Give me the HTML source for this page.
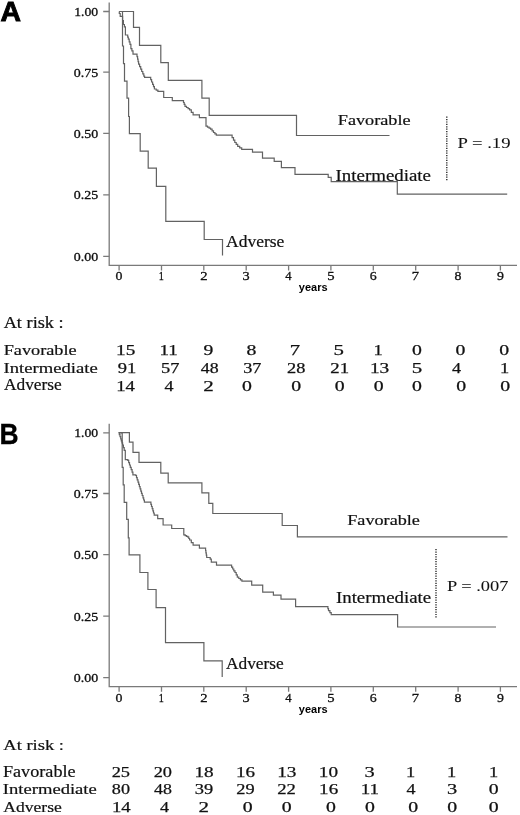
<!DOCTYPE html>
<html><head><meta charset="utf-8"><style>
html,body{margin:0;padding:0;background:#fff;}
svg{display:block;filter:grayscale(1) blur(0.3px);}
text{font-family:"Liberation Serif", serif;fill:#111;stroke:#111;stroke-width:0.2px;}
text.ax{stroke-width:0.3px;}
text.ns{stroke-width:0;}
text.num{stroke-width:0.25px;}
text.yrs{fill:#3a3a3a;}
text.pv{stroke-width:0.05px;}
text.big{stroke:#000;stroke-width:0.9px;}
text.bigb{stroke:#000;stroke-width:0.3px;}
text.lab{font-family:"Liberation Sans", sans-serif;fill:#000;}
</style></head><body>
<svg width="520" height="815" viewBox="0 0 520 815">
<rect width="520" height="815" fill="#fff"/>
<text x="0.64" y="21.45" font-size="27.64" font-weight="bold" class="lab big" textLength="20.48" lengthAdjust="spacingAndGlyphs">A</text>
<text x="-0.49" y="443.55" font-size="28.80" font-weight="bold" class="lab bigb" textLength="19.12" lengthAdjust="spacingAndGlyphs">B</text>
<path d="M109.2 2.5 V265.4 H517" fill="none" stroke="#7a7a7a" stroke-width="1.3"/>
<path d="M103.2 11.5 H109.2 M103.2 72.2 H109.2 M103.2 133.4 H109.2 M103.2 194.9 H109.2 M103.2 256.3 H109.2 M119.1 265.4 V270.4 M161.5 265.4 V270.4 M203.8 265.4 V270.4 M246.2 265.4 V270.4 M288.6 265.4 V270.4 M330.9 265.4 V270.4 M373.3 265.4 V270.4 M415.7 265.4 V270.4 M458.1 265.4 V270.4 M500.4 265.4 V270.4 " fill="none" stroke="#7a7a7a" stroke-width="1.3"/>
<path d="M119.3 11.5 H133.5 V27.3 H139.5 V45.3 H160.8 V62.6 H168.3 V80.4 H201.9 V98.1 H209.2 V115.3 H296.5 V135.5 H389.5" fill="none" stroke="#626262" stroke-width="1.2"/>
<path d="M119.3 11.5 V13.5 H120.2 V16.3 H122.6 V20.5 H123.4 V24.5 H124.4 V26.8 H125.4 V35.0 H127.0 H127.7 V37.1 H128.3 V39.2 H129.2 V41.8 H130.0 V44.3 H130.9 V48.6 H131.9 V50.8 H133.0 V52.9 V54.2 H136.5 H137.0 V56.7 H137.6 V59.1 H138.1 V61.6 H138.6 V64.1 H139.6 V66.7 H140.7 V69.2 H141.7 V71.5 H142.8 V73.8 H143.8 V76.1 H144.6 V77.3 H149.8 H150.7 V79.6 H151.6 V82.0 H152.6 V84.3 H153.5 V86.7 H154.4 V89.0 H156.2 V90.2 H157.9 V91.3 H163.7 V97.5 H172.3 V100.6 H182.7 H183.5 V102.5 H184.2 V104.4 H185.0 V106.3 H186.5 V107.5 H188.1 V108.6 H189.6 V109.8 H191.3 V112.3 H193.1 V114.8 H199.4 V117.7 H206.0 V126.1 H207.5 V127.1 H209.1 V128.2 H210.6 V129.2 H212.1 V130.8 H213.5 V132.5 H214.9 V133.8 H216.3 V135.2 H230.8 H232.1 V137.6 H233.5 V140.1 H234.8 V142.5 H236.2 V144.4 H237.7 V146.3 H239.7 V147.9 H241.7 V149.4 H252.5 V152.1 H262.5 V158.2 H274.2 V161.3 H281.4 V167.7 H295.0 V174.3 H328.2 V177.3 H331.2 V181.6 H397.3 V194.2 H507.2" fill="none" stroke="#626262" stroke-width="1.2"/>
<path d="M119.3 11.5 H122.5 V46.0 H123.5 V63.6 H124.5 V81.1 H127.0 V98.1 H128.6 V116.5 H129.4 V133.6 H140.2 V151.2 H148.2 V168.2 H156.4 V186.4 H165.8 V221.3 H204.2 V239.5 H222.5 V255.6" fill="none" stroke="#626262" stroke-width="1.2"/>
<text x="74.20" y="16.00" font-size="11.58" class="ax" textLength="23.91" lengthAdjust="spacingAndGlyphs">1.00</text>
<text x="73.78" y="76.70" font-size="11.58" class="ax" textLength="24.38" lengthAdjust="spacingAndGlyphs">0.75</text>
<text x="73.78" y="137.90" font-size="11.58" class="ax" textLength="24.34" lengthAdjust="spacingAndGlyphs">0.50</text>
<text x="73.78" y="199.40" font-size="11.58" class="ax" textLength="24.38" lengthAdjust="spacingAndGlyphs">0.25</text>
<text x="73.78" y="260.80" font-size="11.58" class="ax" textLength="24.34" lengthAdjust="spacingAndGlyphs">0.00</text>
<text x="115.63" y="280.40" font-size="12.18" class="ax" textLength="6.94" lengthAdjust="spacingAndGlyphs">0</text>
<text x="158.78" y="280.40" font-size="12.27" class="ax" textLength="5.11" lengthAdjust="spacingAndGlyphs">1</text>
<text x="200.23" y="280.40" font-size="12.23" class="ax" textLength="7.37" lengthAdjust="spacingAndGlyphs">2</text>
<text x="242.58" y="280.40" font-size="12.23" class="ax" textLength="7.15" lengthAdjust="spacingAndGlyphs">3</text>
<text x="285.38" y="280.40" font-size="12.32" class="ax" textLength="6.34" lengthAdjust="spacingAndGlyphs">4</text>
<text x="327.16" y="280.40" font-size="12.37" class="ax" textLength="7.33" lengthAdjust="spacingAndGlyphs">5</text>
<text x="369.78" y="280.40" font-size="12.23" class="ax" textLength="6.90" lengthAdjust="spacingAndGlyphs">6</text>
<text x="411.79" y="280.40" font-size="12.37" class="ax" textLength="7.28" lengthAdjust="spacingAndGlyphs">7</text>
<text x="454.59" y="280.40" font-size="12.18" class="ax" textLength="6.94" lengthAdjust="spacingAndGlyphs">8</text>
<text x="497.03" y="280.40" font-size="12.23" class="ax" textLength="6.90" lengthAdjust="spacingAndGlyphs">9</text>
<text x="298.82" y="291.30" font-size="10.98" font-weight="bold" class="lab ns yrs" textLength="28.74" lengthAdjust="spacingAndGlyphs">years</text>
<text x="337.75" y="125.40" font-size="14.96" textLength="72.86" lengthAdjust="spacingAndGlyphs">Favorable</text>
<text x="335.54" y="181.40" font-size="16.40" textLength="95.48" lengthAdjust="spacingAndGlyphs">Intermediate</text>
<text x="226.03" y="247.10" font-size="15.97" textLength="58.28" lengthAdjust="spacingAndGlyphs">Adverse</text>
<text x="457.54" y="147.90" font-size="15.55" class="pv" textLength="53.02" lengthAdjust="spacingAndGlyphs">P = .19</text>
<path d="M446.8 116.6 V180.8" stroke="#1a1a1a" stroke-width="1.3" stroke-dasharray="1.2 1.2"/>
<text x="3.67" y="328.30" font-size="15.83" textLength="60.01" lengthAdjust="spacingAndGlyphs">At risk :</text>
<text x="3.65" y="355.00" font-size="14.68" textLength="72.96" lengthAdjust="spacingAndGlyphs">Favorable</text>
<text x="3.55" y="372.70" font-size="14.39" textLength="94.17" lengthAdjust="spacingAndGlyphs">Intermediate</text>
<text x="4.03" y="390.40" font-size="15.83" textLength="57.77" lengthAdjust="spacingAndGlyphs">Adverse</text>
<text x="116.12" y="355.20" font-size="14.39" class="num" textLength="19.26" lengthAdjust="spacingAndGlyphs">15</text>
<text x="159.59" y="355.20" font-size="14.39" class="num" textLength="18.31" lengthAdjust="spacingAndGlyphs">11</text>
<text x="203.46" y="355.20" font-size="14.34" class="num" textLength="9.82" lengthAdjust="spacingAndGlyphs">9</text>
<text x="246.56" y="355.20" font-size="14.29" class="num" textLength="9.88" lengthAdjust="spacingAndGlyphs">8</text>
<text x="289.65" y="355.20" font-size="14.50" class="num" textLength="10.37" lengthAdjust="spacingAndGlyphs">7</text>
<text x="333.60" y="355.20" font-size="14.50" class="num" textLength="10.43" lengthAdjust="spacingAndGlyphs">5</text>
<text x="373.44" y="355.20" font-size="14.39" class="num" textLength="9.22" lengthAdjust="spacingAndGlyphs">1</text>
<text x="411.96" y="355.20" font-size="14.29" class="num" textLength="9.88" lengthAdjust="spacingAndGlyphs">0</text>
<text x="455.46" y="355.20" font-size="14.29" class="num" textLength="9.88" lengthAdjust="spacingAndGlyphs">0</text>
<text x="499.26" y="355.20" font-size="14.29" class="num" textLength="9.88" lengthAdjust="spacingAndGlyphs">0</text>
<text x="117.80" y="372.60" font-size="14.04" class="num" textLength="18.51" lengthAdjust="spacingAndGlyphs">91</text>
<text x="161.14" y="372.60" font-size="14.20" class="num" textLength="18.41" lengthAdjust="spacingAndGlyphs">57</text>
<text x="200.74" y="372.60" font-size="13.98" class="num" textLength="17.82" lengthAdjust="spacingAndGlyphs">48</text>
<text x="243.23" y="372.60" font-size="14.04" class="num" textLength="18.21" lengthAdjust="spacingAndGlyphs">37</text>
<text x="287.08" y="372.60" font-size="13.98" class="num" textLength="18.31" lengthAdjust="spacingAndGlyphs">28</text>
<text x="330.36" y="372.60" font-size="14.04" class="num" textLength="18.77" lengthAdjust="spacingAndGlyphs">21</text>
<text x="369.92" y="372.60" font-size="14.04" class="num" textLength="19.26" lengthAdjust="spacingAndGlyphs">13</text>
<text x="411.70" y="372.60" font-size="14.20" class="num" textLength="10.43" lengthAdjust="spacingAndGlyphs">5</text>
<text x="452.04" y="372.60" font-size="14.14" class="num" textLength="9.03" lengthAdjust="spacingAndGlyphs">4</text>
<text x="500.14" y="372.60" font-size="14.09" class="num" textLength="9.22" lengthAdjust="spacingAndGlyphs">1</text>
<text x="116.16" y="390.60" font-size="14.24" class="num" textLength="18.72" lengthAdjust="spacingAndGlyphs">14</text>
<text x="164.64" y="390.60" font-size="14.30" class="num" textLength="9.03" lengthAdjust="spacingAndGlyphs">4</text>
<text x="203.16" y="390.60" font-size="14.19" class="num" textLength="10.50" lengthAdjust="spacingAndGlyphs">2</text>
<text x="242.06" y="390.60" font-size="14.14" class="num" textLength="9.88" lengthAdjust="spacingAndGlyphs">0</text>
<text x="291.16" y="390.60" font-size="14.14" class="num" textLength="9.88" lengthAdjust="spacingAndGlyphs">0</text>
<text x="334.66" y="390.60" font-size="14.14" class="num" textLength="9.88" lengthAdjust="spacingAndGlyphs">0</text>
<text x="373.86" y="390.60" font-size="14.14" class="num" textLength="9.88" lengthAdjust="spacingAndGlyphs">0</text>
<text x="412.06" y="390.60" font-size="14.14" class="num" textLength="9.88" lengthAdjust="spacingAndGlyphs">0</text>
<text x="456.26" y="390.60" font-size="14.14" class="num" textLength="9.88" lengthAdjust="spacingAndGlyphs">0</text>
<text x="500.26" y="390.60" font-size="14.14" class="num" textLength="9.88" lengthAdjust="spacingAndGlyphs">0</text>
<path d="M109.2 423.8 V686.7 H517" fill="none" stroke="#7a7a7a" stroke-width="1.3"/>
<path d="M103.2 432.8 H109.2 M103.2 493.5 H109.2 M103.2 554.7 H109.2 M103.2 616.2 H109.2 M103.2 677.6 H109.2 M119.1 686.7 V691.7 M161.5 686.7 V691.7 M203.8 686.7 V691.7 M246.2 686.7 V691.7 M288.6 686.7 V691.7 M330.9 686.7 V691.7 M373.3 686.7 V691.7 M415.7 686.7 V691.7 M458.1 686.7 V691.7 M500.4 686.7 V691.7 " fill="none" stroke="#7a7a7a" stroke-width="1.3"/>
<path d="M118.6 432.6 H129.4 V442.2 H133.0 V452.3 H139.0 V462.4 H160.8 V473.1 H168.2 V482.8 H201.9 V492.9 H208.8 V503.3 H212.8 V513.5 H282.2 V525.5 H297.4 V536.8 H507.5" fill="none" stroke="#626262" stroke-width="1.2"/>
<path d="M118.6 432.6 H119.3 V434.7 H120.0 V436.7 H120.7 V438.8 H121.3 V440.9 H122.0 V442.9 H122.6 V445.0 H123.4 V447.7 H124.2 V450.4 H125.3 V459.6 H127.8 V460.4 H128.7 V462.7 H129.5 V465.0 H130.3 V467.3 H131.2 V469.6 H132.1 V472.2 H132.9 V474.8 H135.8 V475.5 H136.5 V477.7 H137.2 V479.9 H138.0 V482.2 H138.7 V484.4 H139.4 V486.6 H140.1 V488.9 H140.8 V491.1 H141.5 V493.3 H142.2 V495.5 H143.0 V497.8 H143.7 V500.0 H144.4 V502.2 H150.2 H150.9 V504.4 H151.5 V506.5 H152.2 V508.7 H152.9 V510.9 H153.5 V513.0 H154.2 V515.2 H157.7 V518.7 H163.1 V525.0 H171.7 V528.5 H182.7 H183.8 V534.8 H185.2 V535.6 H186.5 V536.3 H187.9 V537.1 H188.8 V538.5 H189.6 V540.0 H191.3 V542.6 H193.1 V545.2 H199.4 V548.1 H205.2 H205.6 V550.5 H205.9 V552.8 H206.3 V555.1 H206.7 V557.5 H210.2 V559.2 H211.3 V562.1 H216.5 V562.6 V565.2 H230.4 H231.6 V567.1 H232.7 V569.0 H233.8 V570.8 H235.0 V572.5 H236.2 V574.8 H237.3 V577.1 H238.8 V578.5 H240.4 V579.8 H241.9 V581.2 H251.7 V585.2 H262.7 V592.2 H273.4 V595.2 H281.0 V599.2 H295.6 V606.6 H327.2 H327.9 V608.7 H328.5 V610.7 H329.9 V612.7 H331.2 V614.7 H397.6 V627.0 H496.0" fill="none" stroke="#626262" stroke-width="1.2"/>
<path d="M119.0 432.8 H122.2 V467.3 H123.2 V484.9 H124.2 V502.4 H126.7 V519.4 H128.3 V537.8 H129.1 V554.9 H139.9 V572.5 H147.9 V589.5 H156.1 V607.7 H165.5 V642.6 H203.9 V660.8 H222.2 V676.9" fill="none" stroke="#626262" stroke-width="1.2"/>
<text x="74.20" y="437.30" font-size="11.58" class="ax" textLength="23.91" lengthAdjust="spacingAndGlyphs">1.00</text>
<text x="73.78" y="498.00" font-size="11.58" class="ax" textLength="24.38" lengthAdjust="spacingAndGlyphs">0.75</text>
<text x="73.78" y="559.20" font-size="11.58" class="ax" textLength="24.34" lengthAdjust="spacingAndGlyphs">0.50</text>
<text x="73.78" y="620.70" font-size="11.58" class="ax" textLength="24.38" lengthAdjust="spacingAndGlyphs">0.25</text>
<text x="73.78" y="682.10" font-size="11.58" class="ax" textLength="24.34" lengthAdjust="spacingAndGlyphs">0.00</text>
<text x="115.63" y="701.70" font-size="12.18" class="ax" textLength="6.94" lengthAdjust="spacingAndGlyphs">0</text>
<text x="158.78" y="701.70" font-size="12.27" class="ax" textLength="5.11" lengthAdjust="spacingAndGlyphs">1</text>
<text x="200.23" y="701.70" font-size="12.23" class="ax" textLength="7.37" lengthAdjust="spacingAndGlyphs">2</text>
<text x="242.58" y="701.70" font-size="12.23" class="ax" textLength="7.15" lengthAdjust="spacingAndGlyphs">3</text>
<text x="285.38" y="701.70" font-size="12.32" class="ax" textLength="6.34" lengthAdjust="spacingAndGlyphs">4</text>
<text x="327.16" y="701.70" font-size="12.37" class="ax" textLength="7.33" lengthAdjust="spacingAndGlyphs">5</text>
<text x="369.78" y="701.70" font-size="12.23" class="ax" textLength="6.90" lengthAdjust="spacingAndGlyphs">6</text>
<text x="411.79" y="701.70" font-size="12.37" class="ax" textLength="7.28" lengthAdjust="spacingAndGlyphs">7</text>
<text x="454.59" y="701.70" font-size="12.18" class="ax" textLength="6.94" lengthAdjust="spacingAndGlyphs">8</text>
<text x="497.03" y="701.70" font-size="12.23" class="ax" textLength="6.90" lengthAdjust="spacingAndGlyphs">9</text>
<text x="298.82" y="712.60" font-size="10.98" font-weight="bold" class="lab ns yrs" textLength="28.74" lengthAdjust="spacingAndGlyphs">years</text>
<text x="347.25" y="525.40" font-size="14.68" textLength="72.66" lengthAdjust="spacingAndGlyphs">Favorable</text>
<text x="335.94" y="602.70" font-size="16.55" textLength="95.18" lengthAdjust="spacingAndGlyphs">Intermediate</text>
<text x="226.03" y="668.60" font-size="15.83" textLength="57.67" lengthAdjust="spacingAndGlyphs">Adverse</text>
<text x="447.05" y="591.20" font-size="14.44" class="pv" textLength="61.42" lengthAdjust="spacingAndGlyphs">P = .007</text>
<path d="M436 549.1 V618.6" stroke="#1a1a1a" stroke-width="1.3" stroke-dasharray="1.2 1.2"/>
<text x="3.31" y="750.00" font-size="14.68" textLength="60.67" lengthAdjust="spacingAndGlyphs">At risk :</text>
<text x="2.95" y="776.90" font-size="15.97" textLength="72.66" lengthAdjust="spacingAndGlyphs">Favorable</text>
<text x="2.85" y="793.70" font-size="13.96" textLength="93.96" lengthAdjust="spacingAndGlyphs">Intermediate</text>
<text x="3.32" y="811.50" font-size="14.68" textLength="58.48" lengthAdjust="spacingAndGlyphs">Adverse</text>
<text x="111.67" y="776.70" font-size="15.25" class="num" textLength="18.36" lengthAdjust="spacingAndGlyphs">25</text>
<text x="153.68" y="776.70" font-size="15.19" class="num" textLength="18.31" lengthAdjust="spacingAndGlyphs">20</text>
<text x="194.52" y="776.70" font-size="15.19" class="num" textLength="19.20" lengthAdjust="spacingAndGlyphs">18</text>
<text x="236.03" y="776.70" font-size="15.25" class="num" textLength="19.04" lengthAdjust="spacingAndGlyphs">16</text>
<text x="277.22" y="776.70" font-size="15.25" class="num" textLength="19.26" lengthAdjust="spacingAndGlyphs">13</text>
<text x="318.82" y="776.70" font-size="15.19" class="num" textLength="19.20" lengthAdjust="spacingAndGlyphs">10</text>
<text x="364.43" y="776.70" font-size="15.25" class="num" textLength="10.18" lengthAdjust="spacingAndGlyphs">3</text>
<text x="405.94" y="776.70" font-size="15.30" class="num" textLength="9.22" lengthAdjust="spacingAndGlyphs">1</text>
<text x="447.04" y="776.70" font-size="15.30" class="num" textLength="9.22" lengthAdjust="spacingAndGlyphs">1</text>
<text x="488.94" y="776.70" font-size="15.30" class="num" textLength="9.22" lengthAdjust="spacingAndGlyphs">1</text>
<text x="111.82" y="794.20" font-size="15.04" class="num" textLength="18.16" lengthAdjust="spacingAndGlyphs">80</text>
<text x="154.14" y="794.20" font-size="15.04" class="num" textLength="17.82" lengthAdjust="spacingAndGlyphs">48</text>
<text x="194.73" y="794.20" font-size="15.09" class="num" textLength="18.41" lengthAdjust="spacingAndGlyphs">39</text>
<text x="236.27" y="794.20" font-size="15.09" class="num" textLength="18.36" lengthAdjust="spacingAndGlyphs">29</text>
<text x="277.26" y="794.20" font-size="15.09" class="num" textLength="18.67" lengthAdjust="spacingAndGlyphs">22</text>
<text x="319.13" y="794.20" font-size="15.09" class="num" textLength="19.04" lengthAdjust="spacingAndGlyphs">16</text>
<text x="360.79" y="794.20" font-size="15.15" class="num" textLength="18.31" lengthAdjust="spacingAndGlyphs">11</text>
<text x="406.64" y="794.20" font-size="15.21" class="num" textLength="9.03" lengthAdjust="spacingAndGlyphs">4</text>
<text x="447.13" y="794.20" font-size="15.09" class="num" textLength="10.18" lengthAdjust="spacingAndGlyphs">3</text>
<text x="488.76" y="794.20" font-size="15.04" class="num" textLength="9.88" lengthAdjust="spacingAndGlyphs">0</text>
<text x="111.96" y="811.90" font-size="14.24" class="num" textLength="18.72" lengthAdjust="spacingAndGlyphs">14</text>
<text x="159.94" y="811.90" font-size="14.30" class="num" textLength="9.03" lengthAdjust="spacingAndGlyphs">4</text>
<text x="198.56" y="811.90" font-size="14.19" class="num" textLength="10.50" lengthAdjust="spacingAndGlyphs">2</text>
<text x="242.86" y="811.90" font-size="14.14" class="num" textLength="9.88" lengthAdjust="spacingAndGlyphs">0</text>
<text x="281.86" y="811.90" font-size="14.14" class="num" textLength="9.88" lengthAdjust="spacingAndGlyphs">0</text>
<text x="325.96" y="811.90" font-size="14.14" class="num" textLength="9.88" lengthAdjust="spacingAndGlyphs">0</text>
<text x="364.96" y="811.90" font-size="14.14" class="num" textLength="9.88" lengthAdjust="spacingAndGlyphs">0</text>
<text x="408.16" y="811.90" font-size="14.14" class="num" textLength="9.88" lengthAdjust="spacingAndGlyphs">0</text>
<text x="447.36" y="811.90" font-size="14.14" class="num" textLength="9.88" lengthAdjust="spacingAndGlyphs">0</text>
<text x="488.76" y="811.90" font-size="14.14" class="num" textLength="9.88" lengthAdjust="spacingAndGlyphs">0</text>
</svg>
</body></html>
